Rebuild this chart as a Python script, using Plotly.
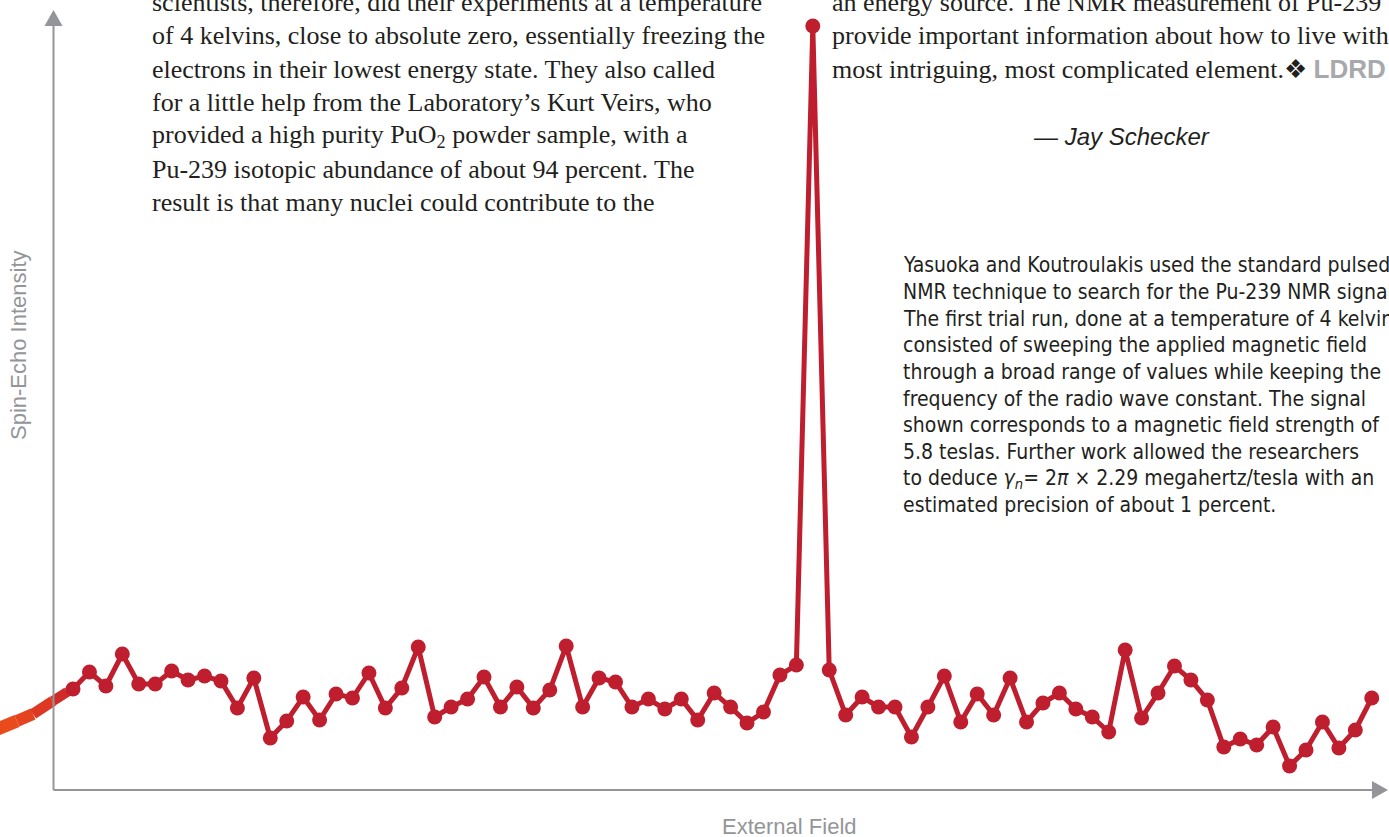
import plotly.graph_objects as go

W, H = 1389, 837

# Spin-echo intensity recorded at each step of the field sweep (arbitrary units)
field_step = list(range(80))
intensity = [10.1, 11.8, 10.4, 13.6, 10.6, 10.6, 11.9, 11.0, 11.4, 10.9,
             8.2, 11.2, 5.2, 6.9, 9.3, 7.0, 9.6, 9.2, 11.7, 8.2,
             10.2, 14.3, 7.3, 8.3, 9.1, 11.3, 8.3, 10.3, 8.2, 10.0,
             14.4, 8.3, 11.2, 10.8, 8.3, 9.1, 8.1, 9.1, 7.0, 9.7,
             8.3, 6.7, 7.8, 11.5, 12.5, 76.4, 12.0, 7.5, 9.3, 8.3,
             8.3, 5.3, 8.3, 11.4, 6.8, 9.6, 7.5, 11.2, 6.8, 8.7,
             9.7, 8.1, 7.3, 5.8, 14.0, 7.2, 9.7, 12.4, 11.0, 9.0,
             4.3, 5.1, 4.5, 6.3, 2.4, 4.0, 6.8, 4.2, 6.0, 9.2]

# Incoming ribbon that feeds into the first sample
tail_x = [-4.6, -3.41, -2.43, -1.22, -0.36, 0.0]
tail_y = [6.1, 6.9, 7.6, 8.9, 9.8, 10.1]
tail_colors = ["#ea4b1d", "#e5431f", "#dc3824", "#cf2b28", "#c5222c"]
tail_widths = [13, 12, 11, 10, 9]

# Article text around the graphic
body_left = [
    "scientists, therefore, did their experiments at a temperature",
    "of 4 kelvins, close to absolute zero, essentially freezing the",
    "electrons in their lowest energy state. They also called",
    "for a little help from the Laboratory’s Kurt Veirs, who",
    "provided a high purity PuO<sub>2</sub> powder sample, with a",
    "Pu-239 isotopic abundance of about 94 percent. The",
    "result is that many nuclei could contribute to the",
]
body_right = [
    "an energy source. The NMR measurement of Pu-239 will",
    "provide important information about how to live with this",
    "most intriguing, most complicated element.❖ "
    "<span style='color:#a7a9ac;font-family:Liberation Sans'><b>LDRD</b></span>",
]
caption = [
    "Yasuoka and Koutroulakis used the standard pulsed",
    "NMR technique to search for the Pu-239 NMR signal.",
    "The first trial run, done at a temperature of 4 kelvins,",
    "consisted of sweeping the applied magnetic field",
    "through a broad range of values while keeping the",
    "frequency of the radio wave constant. The signal",
    "shown corresponds to a magnetic field strength of",
    "5.8 teslas. Further work allowed the researchers",
    "to deduce <i>γ<sub>n</sub></i>= 2<i>π</i> × 2.29 megahertz/tesla with an",
    "estimated precision of about 1 percent.",
]
byline = "— Jay Schecker"
x_title = "External Field"
y_title = "Spin-Echo Intensity"

# Data-to-screen scale: one field step = 16.44 px, one intensity unit = 10 px
X0_PX, DX_PX = 73.0, 16.44
Y0_PX, DY_PX = 790.0, 10.0
x_range = [(0 - X0_PX) / DX_PX, (W - X0_PX) / DX_PX]
y_range = [(Y0_PX - H) / DY_PX, Y0_PX / DY_PX]


def px_x(px):
    return (px - X0_PX) / DX_PX


def px_y(py):
    return (Y0_PX - py) / DY_PX


def paper(px, py):
    return px / W, 1 - py / H


RED = "#be1e2d"
AXIS = "#939598"
INK = "#231f20"

fig = go.Figure()

for i in range(len(tail_x) - 1):
    fig.add_trace(go.Scatter(
        x=tail_x[i:i + 2], y=tail_y[i:i + 2], mode="lines",
        line=dict(color=tail_colors[i], width=tail_widths[i]),
        hoverinfo="skip", showlegend=False))

fig.add_trace(go.Scatter(
    x=field_step, y=intensity, mode="lines+markers",
    line=dict(color=RED, width=5),
    marker=dict(color=RED, size=15),
    cliponaxis=False, showlegend=False))

# Axis lines with arrowheads
ax_x = px_x(53.5)
shapes = [
    dict(type="line", xref="x", yref="y", x0=ax_x, y0=0, x1=ax_x, y1=px_y(24),
         line=dict(color=AXIS, width=2)),
    dict(type="line", xref="x", yref="y", x0=ax_x, y0=0, x1=px_x(1374), y1=0,
         line=dict(color=AXIS, width=2)),
    dict(type="path", xref="x", yref="y",
         path=f"M {ax_x},{px_y(10)} L {px_x(44.5)},{px_y(26)} L {px_x(62.5)},{px_y(26)} Z",
         fillcolor=AXIS, line=dict(width=0)),
    dict(type="path", xref="x", yref="y",
         path=f"M {px_x(1388)},0 L {px_x(1372)},{px_y(781)} L {px_x(1372)},{px_y(799)} Z",
         fillcolor=AXIS, line=dict(width=0)),
]

annotations = []
SERIF_SIZE = 26
serif = dict(family="Liberation Serif, DejaVu Serif, serif", size=SERIF_SIZE, color=INK)
for k, line in enumerate(body_left):
    xp, yp = paper(150, 10 + 33.4 * k - 0.3 * SERIF_SIZE)
    annotations.append(dict(x=xp, y=yp, xref="paper", yref="paper", text=line,
                            showarrow=False, xanchor="left", yanchor="middle",
                            font=serif))
for k, line in enumerate(body_right):
    xp, yp = paper(830, 10 + 33.4 * k - 0.3 * SERIF_SIZE)
    annotations.append(dict(x=xp, y=yp, xref="paper", yref="paper", text=line,
                            showarrow=False, xanchor="left", yanchor="middle",
                            font=serif))

CAP_SIZE = 21
narrow = dict(family="Liberation Sans Narrow, DejaVu Sans Condensed, sans-serif",
              size=CAP_SIZE, color=INK)
for k, line in enumerate(caption):
    xp, yp = paper(901, 271.7 + 26.67 * k - 0.3 * CAP_SIZE)
    annotations.append(dict(x=xp, y=yp, xref="paper", yref="paper", text=line,
                            showarrow=False, xanchor="left", yanchor="middle",
                            font=narrow))

xp, yp = paper(1121, 136)
annotations.append(dict(x=xp, y=yp, xref="paper", yref="paper",
                        text=f"<i>{byline}</i>", showarrow=False,
                        xanchor="center", yanchor="middle",
                        font=dict(family="Liberation Sans, Arial, sans-serif",
                                  size=24, color=INK)))

title_font = dict(family="Liberation Sans, Arial, sans-serif", size=22, color=AXIS)
xp, yp = paper(789, 826)
annotations.append(dict(x=xp, y=yp, xref="paper", yref="paper", text=x_title,
                        showarrow=False, xanchor="center", yanchor="middle",
                        font=title_font))
xp, yp = paper(18, 345)
annotations.append(dict(x=xp, y=yp, xref="paper", yref="paper", text=y_title,
                        showarrow=False, xanchor="center", yanchor="middle",
                        textangle=-90, font=title_font))

fig.update_layout(
    width=W, height=H,
    margin=dict(l=0, r=0, t=0, b=0),
    paper_bgcolor="white", plot_bgcolor="white",
    xaxis=dict(range=x_range, visible=False, fixedrange=True),
    yaxis=dict(range=y_range, visible=False, fixedrange=True),
    shapes=shapes, annotations=annotations,
    showlegend=False,
)

fig.write_html("out.html")
